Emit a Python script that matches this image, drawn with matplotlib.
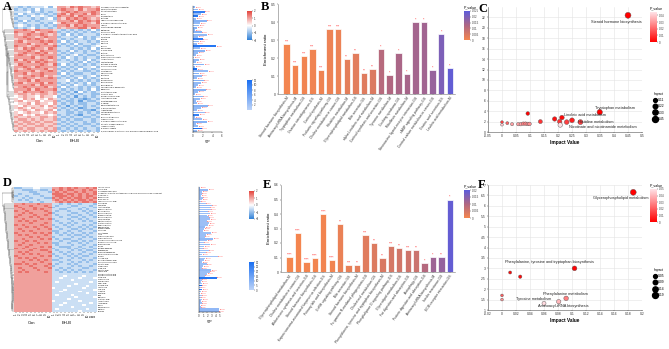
import numpy as np
import matplotlib
matplotlib.use("Agg")
import matplotlib.pyplot as plt
from matplotlib.colors import LinearSegmentedColormap, Normalize
from matplotlib.cm import ScalarMappable
from matplotlib.lines import Line2D

plt.rcParams["font.family"] = ["Liberation Sans", "DejaVu Sans"]

W, H = 669, 349

# ---------------- data: heatmap A (Con 1-10 | EH-B 1-10), digits 1..9 -> -2..2
heat_a = [
    "4343444535 7768787767", "3434353444 7877686778", "4445343434 6787877787",
    "3534434343 7868778687", "4343545434 8778687776", "3444343453 7687878767",
    "4353434444 7778687878", "3434443435 6877787768", "4543434343 7786878777",
    "3434534434 7677788687", "7787687776 4343434353", "8777867787 3434343434",
    "7678778767 4353434443", "7787767877 3444353434", "6778787677 4343443435",
    "7867778787 3534344343", "7778677867 4343534434", "8776787778 3434343345",
    "7687877687 4443434353", "7778768777 3435343434", "6787787867 4343443443",
    "7876778777 3434534334", "7777867787 4354343443", "8687778767 3434343534",
    "7778687877 4443435343", "6877778768 3534343434", "7787687777 4343434453",
    "7678777867 3434353434", "8777867787 4343443343", "7786778777 3534334434",
    "7677878676 4343443453", "7787767787 3434353434", "6778687777 4453434343",
    "7867778687 3434343534", "7777868777 4343543434", "6787777867 3534434343",
    "7778687778 4343434353", "7687778767 3434253434", "6776767767 4343434433",
    "5676657665 3434243434", "6576756576 4343432343", "6756675667 3433424334",
    "5667576657 4343433443", "6576667576 3424343434", "6765766567 4343423443",
    "5676576675 3434343324", "6567665767 4433434343", "6756576656 3434324434",
    "7667667767 4343443343", "6776767667 3434334434", "7677676776 4343443434",
    "6767767667 3434343343", "7676677676 4343434434", "6767766767 3434343443",
    "7676767677 4343434343",
]
names_a = [
    "Nonanoic acid (isononanoate)", "1,3-Dimethyluracil", "N-Acetylserotonin", "Uracil",
    "Hypoxanthine", "Xanthine", "Indole-3-carboxaldehyde", "5-Hydroxyindoleacetic acid",
    "Inosine", "Nicotinamide riboside", "Histamine", "Kynurenic acid",
    "2-Hydroxy-4-(methylthio)butanoic acid", "L-Histidine", "Betaine", "Taurine",
    "Creatine", "Vanillin", "9(S)-HODE", "13-Oxo-ODE", "Cortisol", "Corticosterone",
    "Pregnenolone sulfate", "Androsterone", "Testosterone", "Estrone 3-sulfate",
    "Glycocholic acid", "Taurocholic acid", "Tryptamine", "L-Kynurenine", "Serotonin",
    "Melatonin", "PC(16:0/18:1)", "LysoPC(18:2)", "LysoPE(20:4)",
    "Sphingosine 1-phosphate", "Riboflavin", "Pantothenic acid", "Linoleic acid",
    "alpha-Linolenic acid", "Arachidonic acid", "Prostaglandin E2", "12-HETE",
    "Dihydrotestosterone", "11-Deoxycortisol", "Aldosterone", "Tetrahydrocortisone",
    "L-Tyrosine", "Phenylacetylglycine", "Hippuric acid", "4-Hydroxyphenyllactic acid",
    "N-Acetyl-L-phenylalanine", "Indoxyl sulfate", "p-Cresol sulfate",
    "2,5-Dihydroxy-4-methoxy-3-(4-hydroxyphenyl)propanoic acid",
]
vip_a = [0.4, 1.0, 2.4, 1.6, 1.0, 0.7, 2.8, 1.5, 1.2, 0.9,
         0.4, 1.8, 2.9, 1.0, 2.0, 1.2, 0.8, 4.7, 1.5, 2.5,
         1.0, 0.6, 0.3, 1.2, 0.7, 2.3, 0.4, 0.9, 3.2, 1.3,
         1.8, 0.9, 2.2, 1.6, 1.1, 0.7, 2.6, 1.0, 0.5, 2.0,
         1.4, 0.6, 0.9, 3.0, 1.7, 0.8, 2.4, 1.2, 0.4, 1.9,
         2.9, 0.7, 1.1, 1.8, 0.9]
fc_a = [3, 3, 10, 3, 11, 3, 4, 3, 3, 4,
        3, 4, 3, 3, 10, 3, 3, 11, 3, 4,
        3, 3, 3, 3, 3, 4, 3, 12, 3, 4,
        3, 3, 4, 3, 3, 3, 4, 3, 3, 4,
        3, 3, 3, 4, 3, 3, 3, 10, 3, 3,
        4, 3, 3, 12, 3]
p_a = ["0.0012", "0.0004", "0.0021", "0.0008", "0.0033", "0.0016", "0.0002", "0.0045",
       "0.0011", "0.0027", "0.0009", "0.0014", "0.0003", "0.0038", "0.0006", "0.0019",
       "0.0041", "0.0001", "0.0024", "0.0007", "0.0013", "0.0035", "0.0048", "0.0017",
       "0.0029", "0.0005", "0.0042", "0.0022", "0.0002", "0.0015", "0.0010", "0.0031",
       "0.0006", "0.0018", "0.0026", "0.0039", "0.0004", "0.0023", "0.0044", "0.0008",
       "0.0016", "0.0037", "0.0028", "0.0003", "0.0012", "0.0034", "0.0007", "0.0020",
       "0.0046", "0.0011", "0.0002", "0.0032", "0.0019", "0.0009", "0.0025"]

# ---------------- data: heatmap D (Con 1-10 | EH-B 1-12)
heat_d = [
    "3344455444 778787877878", "4433344334 878788778787", "4444334443 787877878778",
    "4344433444 888788787878", "3443444344 788878787887", "4434344433 878787887878",
    "4343443444 787878788787", "4444344344 678787878878",
    "7787778777 443434434443", "8777877787 434443344434", "7877787778 344434443443",
    "7787787877 443344434344", "8778777787 434434443434", "7787877778 344443344343",
    "7877787787 434434434434", "8777878777 443443343443", "7787777878 344434434344",
    "7878787777 434443443434", "7777877787 443434344443", "8787777877 344343443434",
    "7778787787 434434434343", "7877778778 443443343434", "7787877777 334434434443",
    "8777787878 434343443434", "7878777787 443434334344", "7777878777 344443443434",
    "7787777878 434334434443", "8778787777 443443343434", "7787778787 334434434344",
    "7877877777 434443443443", "7778777878 443334434434", "8787787777 344434343443",
    "7777877887 434443434334", "7878777778 443434443443", "7787878777 344343434434",
    "8777777878 434434343344", "7878787777 443443434443", "7777878787 334434443434",
    "7787777877 443443434344", "8878787778 434434344443", "7777877787 344443434434",
    "7877787778 443434443344", "7787778777 434343434443", "7878777787 443434343434",
    "7777777777 444444444444", "7777777777 444544445444", "7777777777 445444454445",
    "7777777777 444445444444", "7777777777 454444444454", "7777777777 444444544444",
    "7777777777 444454444544", "7777777777 544444445444", "7777777777 444544444445",
    "7777777777 445444454444", "7777777777 444444444544", "7777777777 454445444444",
    "7777777777 444444544445", "7777777777 444454444444", "7777777777 544444454444",
    "7777777777 444544444454", "7777777777 445444445444", "7777777777 444445444444",
    "7777777777 454444444544", "7777777777 444444454444",
]
names_d = [
    "LPC 16:0 sn-1", "Cholic acid", "Glycodeoxycholic acid",
    "1-Palmitoyl-2-(5-keto-6-octene-dioyl)-sn-glycero-3-phosphocholine sodium salt",
    "PE(18:0/20:4)", "LysoPC(20:3)", "PC(18:1/20:4)", "Taurodeoxycholic acid",
    "Sphinganine", "L-Carnitine", "Acetylcarnitine", "Propionylcarnitine",
    "Butyrylcarnitine", "Hexanoylcarnitine", "Octanoylcarnitine", "Decanoylcarnitine",
    "Lauroylcarnitine", "Myristoylcarnitine", "Palmitoylcarnitine", "Stearoylcarnitine",
    "Oleoylcarnitine", "L-Phenylalanine", "L-Tyrosine", "L-Tryptophan", "Indole",
    "Phenylpyruvic acid", "Phenyllactic acid", "4-Hydroxyphenylpyruvic acid",
    "Glycerophosphocholine", "Phosphocholine", "Choline", "Betaine aldehyde",
    "Ethanolamine", "Phosphoethanolamine", "sn-Glycerol 3-phosphate", "Glycerol",
    "Linoleic acid", "Eicosapentaenoic acid", "Docosahexaenoic acid", "Palmitic acid",
    "Stearic acid", "Oleic acid", "Myristic acid", "Lauric acid",
    "2-Hydroxybutyric acid", "3-Hydroxybutyric acid", "Citric acid", "Succinic acid",
    "Fumaric acid", "Malic acid", "Pyruvic acid", "Lactic acid", "Uric acid",
    "Allantoin", "Creatinine", "Urea", "Glutamine", "Glutamic acid",
    "Aspartic acid", "Asparagine", "Proline", "Hydroxyproline", "Ornithine", "Citrulline",
]
vip_d = [0.3, 2.2, 0.8, 0.6, 0.5, 0.9, 0.7, 0.4,
         1.6, 3.0, 2.5, 2.8, 2.1, 2.6, 1.9, 2.3, 2.7, 1.8,
         2.4, 2.2, 1.5, 1.2, 1.0, 2.9, 1.7, 1.4, 3.4, 2.0,
         1.1, 2.6, 1.3, 0.9, 2.3, 1.6, 0.8, 4.5, 1.5, 1.2,
         0.7, 1.8, 1.0, 0.6, 2.9, 2.5, 1.9, 1.4, 4.2, 0.6,
         0.5, 0.8, 0.6, 0.4, 0.7, 0.5, 0.3, 0.6, 0.4, 0.8,
         0.5, 0.6, 0.3, 0.4, 4.8, 4.7]
fc_d = [6, 8, 6, 6, 6, 6, 6, 6,
        6, 8, 6, 6, 8, 6, 6, 6, 6, 6,
        6, 6, 8, 6, 6, 6, 6, 6, 8, 6,
        6, 6, 6, 6, 6, 6, 6, 6, 6, 6,
        6, 6, 6, 6, 8, 6, 6, 6, 28, 6,
        6, 6, 30, 6, 26, 6, 6, 6, 6, 6,
        6, 6, 6, 6, 8, 8]
p_d = ["0.0142", "0.0003", "0.0087", "0.0121", "0.0095", "0.0066", "0.0110", "0.0133",
       "0.0012", "0.0001", "0.0004", "0.0002", "0.0009", "0.0003", "0.0015", "0.0006",
       "0.0002", "0.0018", "0.0005", "0.0007", "0.0021", "0.0034", "0.0041", "0.0001",
       "0.0019", "0.0027", "0.0001", "0.0011", "0.0038", "0.0003", "0.0030", "0.0052",
       "0.0008", "0.0024", "0.0061", "0.0001", "0.0026", "0.0035", "0.0072", "0.0017",
       "0.0044", "0.0081", "0.0002", "0.0004", "0.0013", "0.0029", "0.0001", "0.0088",
       "0.0093", "0.0069", "0.0085", "0.0117", "0.0074", "0.0098", "0.0126", "0.0083",
       "0.0105", "0.0064", "0.0091", "0.0079", "0.0131", "0.0112", "0.0001", "0.0001"]

# ---------------- data: enrichment bars B and E
path_b = ["Steroid hormone biosynthesis-M", "Aminoacyl-tRNA biosynthesis-M",
          "Tryptophan metabolism-GS", "Ovarian steroidogenesis-GS", "Cortisol synthesis-M",
          "Prolactin signaling pathway-GS", "Choline metabolism in cancer-GS",
          "Histidine metabolism-M", "Glycerophospholipid metabolism-GS", "Bile secretion-GS",
          "alpha-Linolenic acid metabolism-M", "Cortisol synthesis and secretion-GS",
          "Tyrosine metabolism-M", "Cushing syndrome-GS", "Riboflavin metabolism-M",
          "Neuroactive ligand-receptor interaction-GS", "cAMP signaling pathway-GS",
          "Central carbon metabolism in cancer-GS", "Gastric acid secretion-GS",
          "Linoleic acid metabolism-M"]
ratio_b = [0.28, 0.16, 0.213, 0.25, 0.133, 0.36, 0.36, 0.194, 0.228, 0.115,
           0.137, 0.25, 0.104, 0.23, 0.111, 0.40, 0.40, 0.135, 0.332, 0.143]
stars_b = ["***", "***", "***", "***", "***", "***", "***", "**", "**", "**",
           "**", "*", "*", "*", "*", "*", "*", "*", "*", "*"]
pval_b = [0.0004, 0.0006, 0.0008, 0.0009, 0.001, 0.0015, 0.0016, 0.003, 0.0035, 0.004,
          0.0045, 0.011, 0.012, 0.013, 0.0135, 0.014, 0.0145, 0.016, 0.02, 0.024]

path_e = ["Glycerophospholipid metabolism-M", "Choline metabolism in cancer-GS",
          "Aldosterone synthesis and secretion-GS", "Steroid hormone biosynthesis-GS",
          "Kaposi sarcoma-associated herpesvirus infection-GS", "Primary bile acid biosynthesis-M",
          "GnRH signaling pathway-GS", "Bile secretion-GS", "Steroid hormone biosynthesis-M",
          "Fc gamma R-mediated phagocytosis-GS", "Cholesterol metabolism-GS",
          "Phenylalanine, tyrosine and tryptophan biosynthesis-M",
          "Phospholipase D signaling pathway-GS", "Glycerolipid metabolism-GS",
          "Fat digestion and absorption-GS", "Autophagy-GS",
          "Protein digestion and absorption-GS", "Aminoacyl-tRNA biosynthesis-M",
          "Insulin resistance-GS", "ECM-receptor interaction-GS"]
ratio_e = [0.105, 0.272, 0.066, 0.094, 0.40, 0.085, 0.334, 0.05, 0.05, 0.252,
           0.20, 0.095, 0.18, 0.165, 0.151, 0.151, 0.062, 0.105, 0.105, 0.50]
stars_e = ["****", "****", "****", "****", "****", "****", "**", "***", "**", "***",
           "**", "**", "***", "**", "***", "**", "*", "*", "**", "*"]
pval_e = [0.0001, 0.0002, 0.0003, 0.0004, 0.0005, 0.0006, 0.0015, 0.002, 0.0025, 0.003,
          0.0035, 0.004, 0.0045, 0.005, 0.0055, 0.006, 0.009, 0.012, 0.013, 0.019]

# ---------------- data: pathway bubbles C and F (x = impact, y = -log10 p)
imp_c = [0.45, 0.349, 0.214, 0.188, 0.206, 0.231, 0.25, 0.28, 0.208, 0.137, 0.092,
         0.0, 0.0, 0.019, 0.036, 0.058, 0.067, 0.076, 0.084, 0.092, 0.098]
logp_c = [22.4, 3.8, 2.77, 2.5, 2.0, 1.9, 2.25, 1.9, 1.35, 2.0, 3.55,
          1.9, 1.4, 1.7, 1.5, 1.5, 1.5, 1.6, 1.6, 1.55, 1.55]
lab_c = {0: "Steroid hormone biosynthesis", 1: "Tryptophan metabolism",
         2: "Linoleic acid metabolism", 7: "Histidine metabolism",
         8: "Nicotinate and nicotinamide metabolism"}
labpos_c = {0: (0.41, 21.2), 1: (0.405, 4.7), 2: (0.297, 3.2), 7: (0.335, 1.87),
            8: (0.36, 0.9)}

imp_f = [0.1875, 0.1036, 0.0116, 0.026, 0.0, 0.0, 0.0916, 0.081, 0.06]
logp_f = [6.65, 3.0, 2.8, 2.6, 1.7, 1.5, 1.56, 1.4, 1.32]
lab_f = {0: "Glycerophospholipid metabolism",
         1: "Phenylalanine, tyrosine and tryptophan biosynthesis",
         6: "Phenylalanine metabolism", 7: "Aminoacyl-tRNA biosynthesis",
         8: "Tyrosine metabolism"}
labpos_f = {0: (0.17, 6.4), 1: (0.068, 3.3), 6: (0.09, 1.78), 7: (0.087, 1.2),
            8: (0.045, 1.52)}

# ---------------- styles
heat_cmap = LinearSegmentedColormap.from_list("heat", ["#2E7FD6", "#FFFFFF", "#E3443C"])
vip_cmap = LinearSegmentedColormap.from_list("vip", ["#BCD3F7", "#1A6FF2"])
bar_cmap = LinearSegmentedColormap.from_list("bar", ["#F5864E", "#AE6683", "#5C5CDB"])
dot_cmap = LinearSegmentedColormap.from_list("dot", ["#FF0000", "#FFE3E8"])


def px_axes(fig, x0, y0, x1, y1):
    return fig.add_axes([x0 / W, 1 - y1 / H, (x1 - x0) / W, (y1 - y0) / H])


def decode(rows):
    return np.array([[(int(c) - 5) / 2 for c in r.replace(" ", "")] for r in rows])


def tiny_ticks(ax, size=2.2):
    ax.tick_params(labelsize=size, length=1, width=0.3, pad=0.6, colors="#333")


def draw_dendro(ax, mat):
    # adjacent-only average linkage so the tree follows the drawn row order
    clusters = [{"n": 1, "mean": mat[i], "pos": float(i), "h": 0.0} for i in range(len(mat))]
    while len(clusters) > 1:
        d = [np.linalg.norm(clusters[k]["mean"] - clusters[k + 1]["mean"])
             for k in range(len(clusters) - 1)]
        k = int(np.argmin(d))
        a, b = clusters[k], clusters[k + 1]
        h = max(a["h"], b["h"]) + d[k]
        ax.plot([a["h"], h, h, b["h"]], [a["pos"], a["pos"], b["pos"], b["pos"]],
                color="#555", lw=0.3)
        n = a["n"] + b["n"]
        clusters[k:k + 2] = [{"n": n, "mean": (a["mean"] * a["n"] + b["mean"] * b["n"]) / n,
                              "pos": (a["pos"] + b["pos"]) / 2, "h": h}]
    ax.set_xlim(clusters[0]["h"] * 1.02, 0)
    ax.set_ylim(len(mat) - 0.5, -0.5)
    ax.axis("off")


def heat_panel(fig, rows, names, vip, fc, pv, n_con, box, vip_box, vip_max, vip_ticks,
               fc_max, fc_ticks, cb1, cb2, lab_y, name_size, group_x):
    mat = decode(rows)
    n = len(mat)
    x0, y0, x1, y1 = box
    draw_dendro(px_axes(fig, 2, y0, x0, y1), mat)
    ax = px_axes(fig, x0, y0, x1, y1)
    ax.imshow(mat, cmap=heat_cmap, vmin=-2, vmax=2, aspect="auto", interpolation="nearest")
    for s in ax.spines.values():
        s.set_visible(False)
    ax.yaxis.tick_right()
    ax.set_yticks(range(n))
    ax.set_yticklabels(names, fontsize=name_size)
    ax.tick_params(axis="y", length=0, pad=0.8)
    ncol = mat.shape[1]
    ax.set_xticks(range(ncol))
    ax.set_xticklabels([str(i + 1) for i in range(n_con)] +
                       [str(i + 1) for i in range(ncol - n_con)],
                       fontsize=2, rotation=90)
    ax.tick_params(axis="x", length=0.8, width=0.3, pad=0.5)
    fig.text(group_x[0] / W, 1 - lab_y / H, "Con", fontsize=3, ha="center")
    fig.text(group_x[1] / W, 1 - lab_y / H, "EH-B", fontsize=3, ha="center")

    av = px_axes(fig, *vip_box)
    fnorm = Normalize(0, fc_max)
    av.barh(range(n), vip, height=0.8, color=vip_cmap(fnorm(np.array(fc))))
    for i, (v, p) in enumerate(zip(vip, pv)):
        av.text(v + 0.15 * vip_max / 6, i, p, color="#FF2020", fontsize=1.3, va="center")
    av.set_ylim(n - 0.5, -0.5)
    av.set_xlim(0, vip_max)
    av.set_xticks(vip_ticks)
    av.set_yticks([])
    for s in ["top", "right"]:
        av.spines[s].set_visible(False)
    for s in ["left", "bottom"]:
        av.spines[s].set_linewidth(0.3)
    tiny_ticks(av, 2.2)
    av.set_xlabel("VIP", fontsize=2.5, labelpad=1)

    c1 = px_axes(fig, *cb1)
    cb = fig.colorbar(ScalarMappable(Normalize(-2, 2), heat_cmap), cax=c1)
    cb.set_ticks([2, 1, 0, -1, -2])
    cb.outline.set_visible(False)
    tiny_ticks(c1, 2)
    c2 = px_axes(fig, *cb2)
    cb = fig.colorbar(ScalarMappable(fnorm, vip_cmap), cax=c2)
    cb.set_ticks(fc_ticks)
    cb.outline.set_visible(False)
    tiny_ticks(c2, 2)


def bar_panel(fig, names, ratio, stars, pv, box, ymax, pmax, pticks, cbox):
    ax = px_axes(fig, *box)
    norm = Normalize(0, pmax)
    x = np.arange(len(ratio))
    ax.bar(x, ratio, width=0.75, color=bar_cmap(norm(np.array(pv))),
           edgecolor="#FFFFFF", linewidth=0.5)
    for xi, r, s in zip(x, ratio, stars):
        ax.text(xi, r + ymax * 0.004, s, color="#FF3030", fontsize=2.6, ha="center", va="bottom")
    ax.set_xlim(-1.0, len(ratio) - 0.4)
    ax.set_ylim(0, ymax)
    ax.set_yticks(np.arange(0, ymax + 0.01, 0.1))
    ax.set_yticklabels(["0"] + ["%.1f" % v for v in np.arange(0.1, ymax + 0.01, 0.1)])
    ax.set_xticks(x)
    ax.set_xticklabels(names, rotation=55, ha="right", rotation_mode="anchor", fontsize=2.4)
    for s in ["top", "right"]:
        ax.spines[s].set_visible(False)
    for s in ["left", "bottom"]:
        ax.spines[s].set_linewidth(0.4)
        ax.spines[s].set_color("#777")
    tiny_ticks(ax, 2.4)
    ax.set_ylabel("Enrichment ratio", fontsize=3.2, labelpad=2)
    cax = px_axes(fig, *cbox)
    cb = fig.colorbar(ScalarMappable(norm, bar_cmap), cax=cax)
    cb.set_ticks(pticks)
    cb.set_ticklabels(["0"] + [("%g" % t) for t in pticks[1:]])
    cb.outline.set_visible(False)
    tiny_ticks(cax, 2)
    fig.text(cbox[0] / W, 1 - (cbox[1] - 2) / H, "P_value", fontsize=2.6, va="bottom")


def bubble_panel(fig, imp, logp, labels, labpos, box, xlim, xticks, xtl, ylim, yticks,
                 pmax, pticks, cbox, s0, s1, leg_vals, leg_y):
    ax = px_axes(fig, *box)
    imp = np.array(imp)
    logp = np.array(logp)
    pv = 10 ** (-logp)
    norm = Normalize(0, pmax)
    ax.grid(True, color="#E4E4E4", lw=0.4)
    ax.set_axisbelow(True)
    ax.scatter(imp, logp, s=s0 + s1 * imp, c=dot_cmap(norm(pv)), edgecolors="#555",
               linewidths=0.3, zorder=3)
    for k, t in labels.items():
        ax.text(*labpos[k], t, fontsize=2.8, ha="center", va="center", color="#222")
    ax.set_xlim(*xlim)
    ax.set_ylim(*ylim)
    ax.set_xticks(xticks)
    ax.set_xticklabels(xtl)
    ax.set_yticks(yticks)
    ax.set_yticklabels(["%g" % v for v in yticks])
    for s in ["top", "right"]:
        ax.spines[s].set_visible(False)
    for s in ["left", "bottom"]:
        ax.spines[s].set_linewidth(0.4)
        ax.spines[s].set_color("#555")
    tiny_ticks(ax, 2.4)
    ax.set_xlabel("Impact Value", fontsize=3.4, fontweight="bold", labelpad=1.5)
    cax = px_axes(fig, *cbox)
    cb = fig.colorbar(ScalarMappable(norm, dot_cmap), cax=cax)
    cb.set_ticks(pticks)
    cb.set_ticklabels(["0"] + [("%g" % t) for t in pticks[1:]])
    cb.outline.set_visible(False)
    tiny_ticks(cax, 2)
    fig.text(cbox[0] / W, 1 - (cbox[1] - 2) / H, "P_value", fontsize=2.6, va="bottom")
    handles = [Line2D([], [], ls="", marker="o", color="black", markersize=np.sqrt(s0 + s1 * v))
               for v in leg_vals]
    fig.legend(handles, ["%g" % v for v in leg_vals], loc="upper left",
               bbox_to_anchor=(652 / W, 1 - leg_y / H), frameon=False, fontsize=2.4,
               title="Impact", title_fontsize=2.4, handletextpad=0.3, labelspacing=0.7,
               borderpad=0, handlelength=1.0)


fig = plt.figure(figsize=(6.69, 3.49), dpi=100)

heat_panel(fig, heat_a, names_a, vip_a, fc_a, p_a, 10, (14, 6, 100, 132), (193, 6, 222, 132),
           6, [0, 2, 4, 6], 12, [2, 4, 6, 8, 10, 12], (247, 11, 252, 40), (247, 80, 252, 110),
           142, 1.55, (40, 75))
heat_panel(fig, heat_d, names_d, vip_d, fc_d, p_d, 10, (14, 187, 97, 312), (199, 187, 220, 312),
           5, [0, 1, 2, 3, 4, 5], 30, [0, 5, 10, 15, 20, 25, 30], (249, 191, 254, 219),
           (249, 262, 254, 290), 324, 1.35, (32, 67))

bar_panel(fig, path_b, ratio_b, stars_b, pval_b, (278, 4, 455, 94), 0.5, 0.025,
          [0, 0.005, 0.01, 0.015, 0.02, 0.025], (464, 11, 470, 40))
bar_panel(fig, path_e, ratio_e, stars_e, pval_e, (281, 185, 455, 272), 0.6, 0.02,
          [0, 0.005, 0.01, 0.015, 0.02], (464, 190, 470, 218))

bubble_panel(fig, imp_c, logp_c, lab_c, labpos_c, (488, 7, 642, 132), (-0.05, 0.5),
             np.arange(-0.05, 0.51, 0.05),
             ["-0.05", "0", "0.05", "0.1", "0.15", "0.2", "0.25", "0.3", "0.35", "0.4", "0.45", "0.5"],
             (0, 24), np.arange(0, 23, 2), 0.045, [0, 0.01, 0.02, 0.03, 0.04], (650, 12, 657, 42),
             4, 32, [0.11, 0.22, 0.33, 0.45], 90)
bubble_panel(fig, imp_f, logp_f, lab_f, labpos_f, (488, 185, 642, 310), (-0.02, 0.2),
             np.arange(-0.02, 0.201, 0.02),
             ["-0.02", "0", "0.02", "0.04", "0.06", "0.08", "0.1", "0.12", "0.14", "0.16", "0.18", "0.2"],
             (1, 7), np.arange(1, 7.01, 0.5), 0.05, [0, 0.01, 0.02, 0.03, 0.04, 0.05],
             (650, 189, 657, 222), 4, 75, [0.05, 0.09, 0.14, 0.19], 266)

for t, x, y in [("A", 3, 1), ("B", 261, 1), ("C", 478, 3), ("D", 3, 177), ("E", 263, 179),
                ("F", 478, 179)]:
    fig.text(x / W, 1 - y / H, t, fontsize=9, fontweight="bold", va="top",
             family="Liberation Serif")

fig.savefig("out.png", dpi=100)
